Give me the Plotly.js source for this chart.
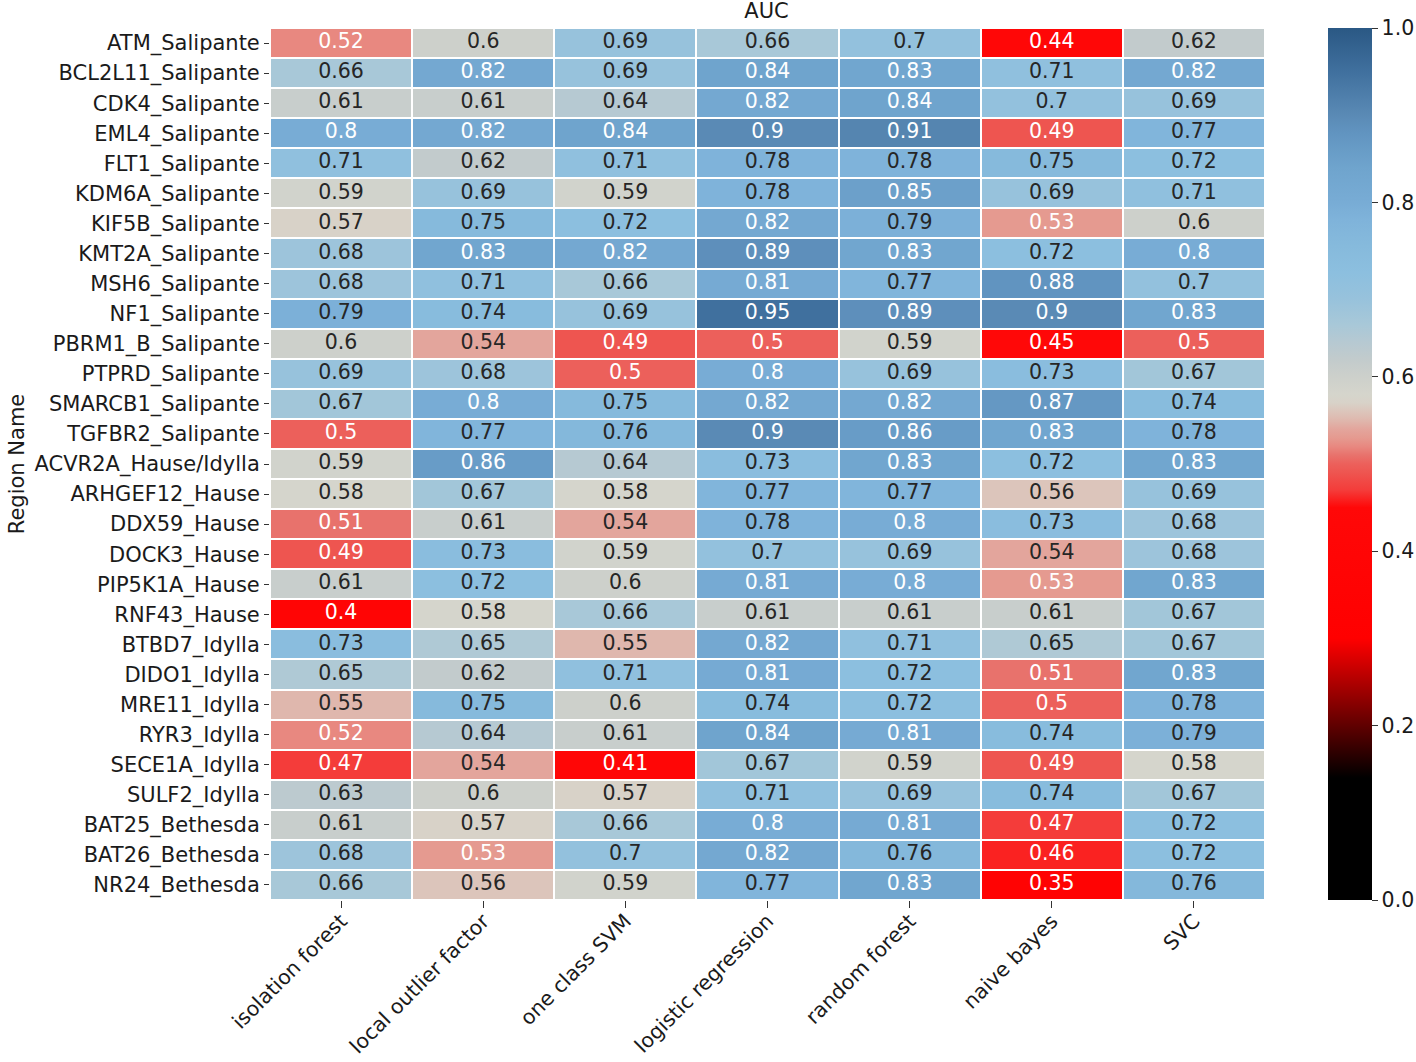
<!DOCTYPE html>
<html>
<head>
<meta charset="utf-8">
<script src="https://cdn.plot.ly/plotly-3.0.1.min.js"></script>
<style>html,body{margin:0;padding:0;background:#fff;}#chart{width:1416px;height:1062px;}</style>
</head>
<body>
<div id="chart"></div>
<script>
const regions = ["ATM_Salipante","BCL2L11_Salipante","CDK4_Salipante","EML4_Salipante","FLT1_Salipante","KDM6A_Salipante","KIF5B_Salipante","KMT2A_Salipante","MSH6_Salipante","NF1_Salipante","PBRM1_B_Salipante","PTPRD_Salipante","SMARCB1_Salipante","TGFBR2_Salipante","ACVR2A_Hause/Idylla","ARHGEF12_Hause","DDX59_Hause","DOCK3_Hause","PIP5K1A_Hause","RNF43_Hause","BTBD7_Idylla","DIDO1_Idylla","MRE11_Idylla","RYR3_Idylla","SECE1A_Idylla","SULF2_Idylla","BAT25_Bethesda","BAT26_Bethesda","NR24_Bethesda"];
const methods = ["isolation forest","local outlier factor","one class SVM","logistic regression","random forest","naive bayes","SVC"];

const isolationForest   = [0.52,0.66,0.61,0.8,0.71,0.59,0.57,0.68,0.68,0.79,0.6,0.69,0.67,0.5,0.59,0.58,0.51,0.49,0.61,0.4,0.73,0.65,0.55,0.52,0.47,0.63,0.61,0.68,0.66];
const localOutlier      = [0.6,0.82,0.61,0.82,0.62,0.69,0.75,0.83,0.71,0.74,0.54,0.68,0.8,0.77,0.86,0.67,0.61,0.73,0.72,0.58,0.65,0.62,0.75,0.64,0.54,0.6,0.57,0.53,0.56];
const oneClassSVM       = [0.69,0.69,0.64,0.84,0.71,0.59,0.72,0.82,0.66,0.69,0.49,0.5,0.75,0.76,0.64,0.58,0.54,0.59,0.6,0.66,0.55,0.71,0.6,0.61,0.41,0.57,0.66,0.7,0.59];
const logisticRegression= [0.66,0.84,0.82,0.9,0.78,0.78,0.82,0.89,0.81,0.95,0.5,0.8,0.82,0.9,0.73,0.77,0.78,0.7,0.81,0.61,0.82,0.81,0.74,0.84,0.67,0.71,0.8,0.82,0.77];
const randomForest      = [0.7,0.83,0.84,0.91,0.78,0.85,0.79,0.83,0.77,0.89,0.59,0.69,0.82,0.86,0.83,0.77,0.8,0.69,0.8,0.61,0.71,0.72,0.72,0.81,0.59,0.69,0.81,0.76,0.83];
const naiveBayes        = [0.44,0.71,0.7,0.49,0.75,0.69,0.53,0.72,0.88,0.9,0.45,0.73,0.87,0.83,0.72,0.56,0.73,0.54,0.53,0.61,0.65,0.51,0.5,0.74,0.49,0.74,0.47,0.46,0.35];
const svc               = [0.62,0.82,0.69,0.77,0.72,0.71,0.6,0.8,0.7,0.83,0.5,0.67,0.74,0.78,0.83,0.69,0.68,0.68,0.83,0.67,0.67,0.83,0.78,0.79,0.58,0.67,0.72,0.72,0.76];

const columns = [isolationForest, localOutlier, oneClassSVM, logisticRegression, randomForest, naiveBayes, svc];

const z = regions.map((r, i) => columns.map(col => col[i]));

const colorscale = [
  [0.0,'#000000'],[0.14,'#000000'],[0.3,'#ff0000'],[0.45,'#ff0808'],
  [0.47,'#f43c3a'],[0.49,'#ee5550'],[0.5,'#ec605b'],[0.51,'#e8726c'],
  [0.52,'#e88880'],[0.53,'#e59a90'],[0.54,'#e3a59c'],[0.55,'#dfb7ad'],
  [0.56,'#dcc5bb'],[0.57,'#d8d2c8'],[0.58,'#d5d5cc'],[0.6,'#cdd0cb'],
  [0.62,'#c2cbcc'],[0.64,'#b6c9d2'],[0.66,'#a8c8d8'],[0.69,'#97c2dc'],
  [0.72,'#8cbfdf'],[0.75,'#86badc'],[0.78,'#7fb3da'],[0.8,'#78acd5'],
  [0.84,'#6fa4cd'],[0.88,'#6194c0'],[0.9,'#5a8ab5'],[0.95,'#40709e'],[1.0,'#2a5884']
];

const tx = [], ty = [], tt = [], tc = [];
regions.forEach((r, i) => {
  methods.forEach((m, j) => {
    const v = columns[j][i];
    tx.push(m); ty.push(r); tt.push(String(v));
    tc.push((v <= 0.535 || v >= 0.795) ? '#ffffff' : '#262626');
  });
});

const FONT = '"DejaVu Sans", sans-serif';
const FS = 21;

const data = [
  {
    type: 'heatmap',
    x: methods, y: regions, z: z,
    zmin: 0, zmax: 1,
    colorscale: colorscale,
    xgap: 2, ygap: 2,
    colorbar: {
      x: 1.0633, xanchor: 'left', xref: 'paper', xpad: 0,
      y: 0.5, yanchor: 'middle', len: 1, lenmode: 'fraction', ypad: 0,
      thickness: 44, outlinewidth: 0,
      tickvals: [0,0.2,0.4,0.6,0.8,1.0],
      ticktext: ['0.0','0.2','0.4','0.6','0.8','1.0'],
      ticks: 'outside', ticklen: 6, tickcolor: '#333',
      tickfont: {family: FONT, size: 20.5, color: '#1a1a1a'}
    }
  },
  {
    type: 'scatter', mode: 'text',
    x: tx, y: ty, text: tt,
    textposition: 'middle center',
    textfont: {family: FONT, size: 20.5, color: tc},
    hoverinfo: 'skip', showlegend: false
  }
];

const layout = {
  width: 1416, height: 1062,
  margin: {l: 270, r: 151, t: 28, b: 162, autoexpand: false},
  paper_bgcolor: '#ffffff', plot_bgcolor: '#ffffff',
  font: {family: FONT, size: FS, color: '#1a1a1a'},
  title: {text: 'AUC', x: 0.5413, xanchor: 'center', yref: 'container', y: 0.9896, yanchor: 'middle', font: {family: FONT, size: FS, color: '#1a1a1a'}},
  xaxis: {
    type: 'category', range: [-0.5, methods.length - 0.5], tickangle: -45, ticks: 'outside', ticklen: 7, tickcolor: '#333',
    ticklabelstandoff: -7,
    showgrid: false, zeroline: false, showline: false,
    tickfont: {family: FONT, size: 20.5, color: '#1a1a1a'}, automargin: false
  },
  yaxis: {
    type: 'category', range: [regions.length - 0.5, -0.5], ticks: 'outside', ticklen: 5, tickcolor: '#333',
    showgrid: false, zeroline: false, showline: false,
    tickfont: {family: FONT, size: FS, color: '#1a1a1a'}, automargin: false,
    title: {text: 'Region Name', standoff: 4, font: {family: FONT, size: FS, color: '#1a1a1a'}}
  },
  showlegend: false
};

Plotly.newPlot('chart', data, layout, {displayModeBar: false, staticPlot: true});
</script>
</body>
</html>
